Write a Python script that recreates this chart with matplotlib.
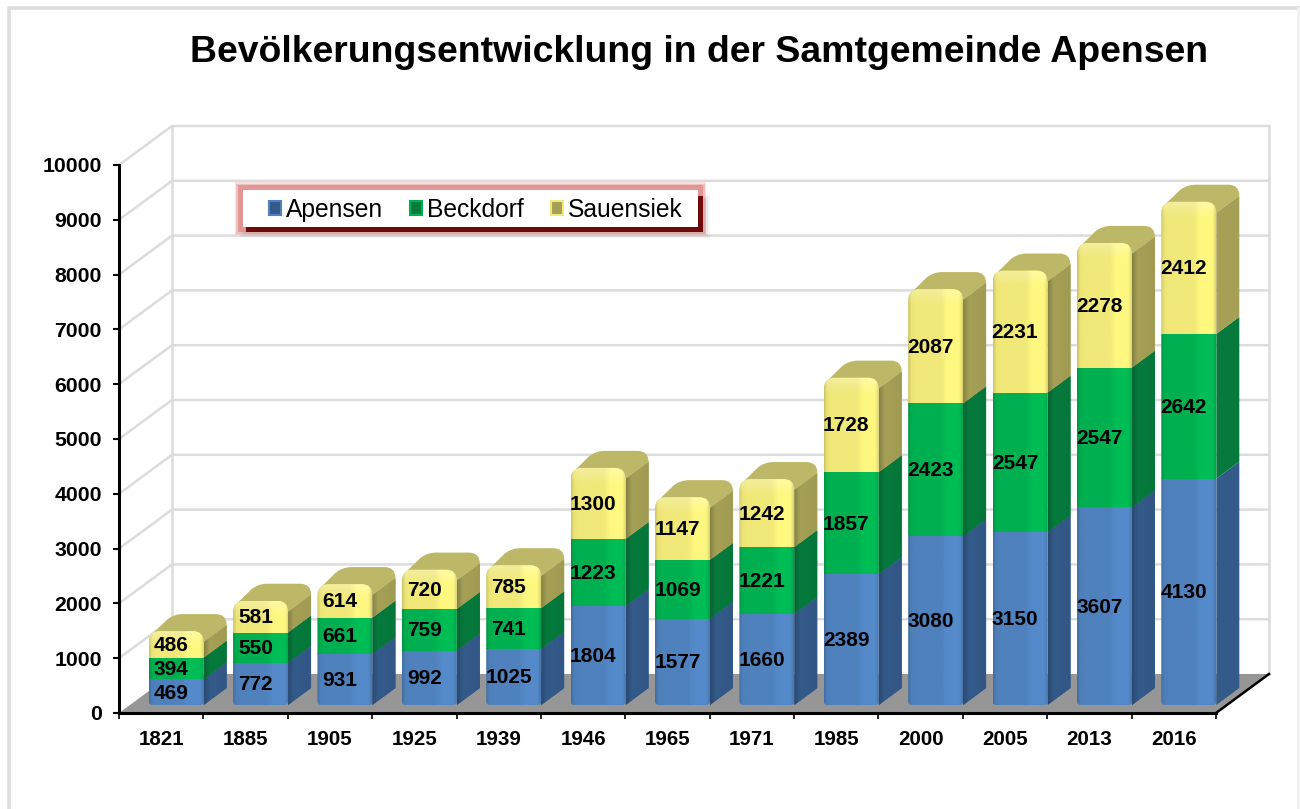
import numpy as np
import matplotlib
matplotlib.use("Agg")
import matplotlib.pyplot as plt
from matplotlib.lines import Line2D
from matplotlib.patches import Patch, PathPatch, Polygon, Rectangle
from matplotlib.path import Path
from matplotlib.colors import to_rgb

plt.rcParams["font.family"] = ["Liberation Sans", "DejaVu Sans"]

years = ["1821", "1885", "1905", "1925", "1939", "1946", "1965", "1971", "1985", "2000", "2005", "2013", "2016"]
apensen = [469, 772, 931, 992, 1025, 1804, 1577, 1660, 2389, 3080, 3150, 3607, 4130]
beckdorf = [394, 550, 661, 759, 741, 1223, 1069, 1221, 1857, 2423, 2547, 2547, 2642]
sauensiek = [486, 581, 614, 720, 785, 1300, 1147, 1242, 1728, 2087, 2231, 2278, 2412]
series_names = ["Apensen", "Beckdorf", "Sauensiek"]
y_ticks = [0, 1000, 2000, 3000, 4000, 5000, 6000, 7000, 8000, 9000, 10000]

front_cols = ["#4f81bd", "#00b050", "#f0e878"]
side_cols = ["#345a8a", "#067a3c", "#a5a055"]
top_col = "#bdb868"

W, H = 1300, 809
fig = plt.figure(figsize=(W / 100, H / 100), dpi=100, facecolor="white")
ax = fig.add_axes([119 / W, (H - 713) / H, (1216 - 119) / W, 548 / H])
ax.set_xlim(0, 13)
ax.set_ylim(0, 10000)
ax.set_facecolor("none")

# size of one pixel in data units
xp = 13 / (1216 - 119)
yp = 10000 / 548

wall_dx, wall_dy = 53 * xp, 39 * yp
bar_dx, bar_dy = 23 * xp, 17 * yp
base = 8 * yp
shift = 15 * xp
bar_w = 55 * xp
rx, ry = 11 * xp, 11 * yp
grid_col = "#dcdcdc"

# back wall and floor
ax.add_patch(Polygon([(0, 0), (13, 0), (13 + wall_dx, wall_dy), (wall_dx, wall_dy)],
                     fc="#969696", ec="none", clip_on=False, zorder=1))
for v in y_ticks[1:]:
    ax.plot([0, wall_dx, 13 + wall_dx], [v, v + wall_dy, v + wall_dy], color=grid_col, lw=1.8,
            clip_on=False, zorder=0.5)
ax.plot([wall_dx, wall_dx], [wall_dy, 10000 + wall_dy], color=grid_col, lw=1.8, clip_on=False, zorder=0.5)
ax.plot([13 + wall_dx, 13 + wall_dx], [wall_dy, 10000 + wall_dy], color=grid_col, lw=1.8, clip_on=False, zorder=0.5)
ax.plot([13, 13 + wall_dx], [0, wall_dy], color="black", lw=1.8, clip_on=False, zorder=1.5)


def shade(x0, x1, y0, y1, color, stops, gains, clip, z):
    # horizontal gradient clipped to a patch
    t = np.linspace(0, 1, 60)
    g = np.interp(t, stops, gains)
    img = np.clip(np.outer(g, to_rgb(color)), 0, 1)[None, :, :]
    im = ax.imshow(img, extent=(x0, x1, y0, y1), aspect="auto", zorder=z, interpolation="bilinear")
    im.set_clip_path(clip)
    return im


front_stops = [0, 0.05, 0.12, 0.6, 0.72, 0.94, 1]
front_gains = [0.85, 0.98, 1, 1, 1.07, 1.07, 0.92]
side_stops = [0, 0.25, 1]
side_gains = [0.8, 1, 0.97]

for i, year in enumerate(years):
    vals = [apensen[i], beckdorf[i], sauensiek[i]]
    x0 = i + 0.5 + shift - bar_w / 2
    x1 = x0 + bar_w
    top = base + sum(vals)
    z = 3 + i * 0.1

    # top face
    verts = [(x0 + 0.3 * rx, top - 0.3 * ry), (x0 + 0.8 * bar_dx, top + bar_dy - 0.5 * ry),
             (x0 + bar_dx + 0.2 * rx, top + bar_dy), (x0 + bar_dx + rx, top + bar_dy),
             (x1 + bar_dx - rx, top + bar_dy), (x1 + bar_dx, top + bar_dy), (x1 + bar_dx, top + bar_dy - ry),
             (x1, top - ry), (x0 + 0.3 * rx, top - 0.3 * ry)]
    codes = [Path.MOVETO, Path.LINETO, Path.CURVE3, Path.CURVE3, Path.LINETO, Path.CURVE3, Path.CURVE3,
             Path.LINETO, Path.CLOSEPOLY]
    ax.add_patch(PathPatch(Path(verts, codes), fc=top_col, ec="none", clip_on=False, zorder=z))

    # front outline with round corners
    br_x, br_y = 4 * xp, 4 * yp
    verts = [(x0 + br_x, base), (x1 - br_x, base), (x1, base), (x1, base + br_y), (x1, top - ry), (x1, top),
             (x1 - rx, top), (x0 + rx, top), (x0, top), (x0, top - ry), (x0, base + br_y), (x0, base),
             (x0 + br_x, base), (x0 + br_x, base)]
    codes = [Path.MOVETO, Path.LINETO, Path.CURVE3, Path.CURVE3, Path.LINETO, Path.CURVE3, Path.CURVE3,
             Path.LINETO, Path.CURVE3, Path.CURVE3, Path.LINETO, Path.CURVE3, Path.CURVE3, Path.CLOSEPOLY]
    outline = PathPatch(Path(verts, codes), fc="none", ec="none", transform=ax.transData)
    ax.add_patch(outline)

    bottom = base
    for k, v in enumerate(vals):
        y0, y1 = bottom, bottom + v
        # side face
        side_top = top - ry if k == 2 else y1
        side = Polygon([(x1, y0), (x1 + bar_dx, y0 + bar_dy), (x1 + bar_dx, side_top + bar_dy), (x1, side_top)],
                       fc=side_cols[k], ec="none", clip_on=False, zorder=z + 0.01)
        ax.add_patch(side)
        shade(x1, x1 + bar_dx, y0, side_top + bar_dy, side_cols[k], side_stops, side_gains, side, z + 0.02)
        # front face
        shade(x0, x1, y0, y1, front_cols[k], front_stops, front_gains, outline, z + 0.03)
        ax.text(i + 0.5 + shift - 5 * xp, (y0 + y1) / 2 - 1 * yp, str(v), ha="center", va="center", fontsize=15,
                fontweight="bold", color="black", zorder=20, clip_on=False)
        bottom = y1

    # light band under the round top
    band = np.ones((20, 2, 4))
    band[:, :, 3] = np.linspace(0.28, 0, 20)[:, None]
    im = ax.imshow(band, extent=(x0, x1, top - 16 * yp, top), aspect="auto", zorder=z + 0.04)
    im.set_clip_path(outline)

ax.set_xlim(0, 13)
ax.set_ylim(0, 10000)

# axes
for s in ["top", "right"]:
    ax.spines[s].set_visible(False)
for s in ["left", "bottom"]:
    ax.spines[s].set_linewidth(2.2)
    ax.spines[s].set_zorder(15)
ax.set_yticks(y_ticks)
ax.set_yticklabels([str(v) for v in y_ticks], fontsize=15.3, fontweight="bold")
ax.set_xticks(np.arange(0, 14))
ax.set_xticklabels([])
ax.set_xticks(np.arange(13) + 0.5, minor=True)
ax.set_xticklabels(years, minor=True, fontsize=14.8, fontweight="bold")
ax.tick_params(axis="y", length=4.5, width=1.5, pad=8)
ax.tick_params(axis="x", which="major", length=4.5, width=1.2)
ax.tick_params(axis="x", which="minor", length=0, pad=12.5)

fig.text(699 / W, (H - 52) / H, "Bevölkerungsentwicklung in der Samtgemeinde Apensen", ha="center", va="center",
         fontsize=26.95, fontweight="bold")


def px_rect(x0, y0, x1, y1, **kw):
    return Rectangle((x0 / W, (H - y1) / H), (x1 - x0) / W, (y1 - y0) / H, transform=fig.transFigure, **kw)


# outer border of the picture
fig.add_artist(Line2D([8.5 / W, 8.5 / W, 1298 / W], [0, (H - 8) / H, (H - 8) / H], color="#dddddd", lw=2.6))
fig.add_artist(Line2D([1298 / W, 1298 / W], [0, (H - 8) / H], color="#f0f0f0", lw=2))

# legend box
for grow, alpha in [(5, 0.05), (3, 0.08), (1, 0.12)]:
    fig.add_artist(px_rect(245 - grow, 200 - grow, 705 + grow, 233 + grow, fc="#505050", ec="none", alpha=alpha, zorder=1))
for grow, alpha in [(3, 0.25), (1.5, 0.4), (0, 0.8)]:
    fig.add_artist(px_rect(238 - grow, 185 - grow, 703 + grow, 232 + grow, fc="#e08c8c", ec="none", alpha=alpha, zorder=1.1))
fig.add_artist(px_rect(246, 196, 703, 232, fc="#6e0a0a", ec="none", zorder=1.2))
fig.add_artist(px_rect(243, 190, 698, 227, fc="white", ec="none", zorder=1.3))

handles = [Patch(fc=side_cols[k], ec=front_cols[k], lw=1.5) for k in range(3)]
fig.legend(handles, series_names, loc="center left", bbox_to_anchor=(269 / W, (H - 210) / H), ncol=3, frameon=False,
           fontsize=17.7, handlelength=0.49, handleheight=0.49, handletextpad=0.2, columnspacing=1.1,
           borderpad=0, borderaxespad=0)

fig.savefig("out.png", dpi=100)
